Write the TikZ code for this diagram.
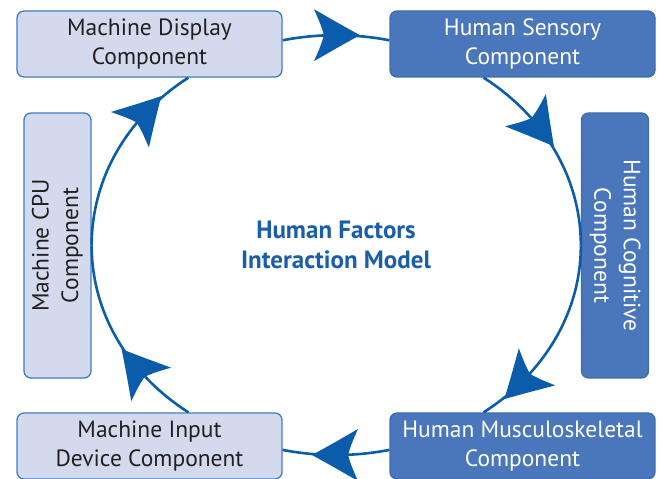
\documentclass[tikz,border=0pt]{standalone}
\usepackage{fontspec}
\setmainfont{PT Sans}
\usetikzlibrary{decorations.markings}
\definecolor{lightfill}{HTML}{D4DAED}
\definecolor{lightborder}{HTML}{3F7EC3}
\definecolor{darkfill}{HTML}{4A77BB}
\definecolor{darkborder}{HTML}{3D6DB3}
\definecolor{arrowblue}{HTML}{0B5DAB}
\definecolor{titleblue}{HTML}{1A5EAA}
\definecolor{textdark}{HTML}{231F20}
\begin{document}
\begin{tikzpicture}[x=1pt,y=1pt,
  box/.style={rounded corners=7pt, line width=1.3pt, inner sep=0pt, align=center,
    font=\fontsize{23.5}{29.5}\selectfont},
  lightbox/.style={box, fill=lightfill, draw=lightborder, text=textdark},
  darkbox/.style={box, fill=darkfill, draw=darkborder, text=white},
  hbox/.style={minimum width=265pt, minimum height=66pt},
  vbox/.style={minimum width=67pt, minimum height=265pt},
  titletext/.style={align=center, text=titleblue, inner sep=0pt,
    font=\bfseries\fontsize{25}{30}\selectfont},
  conn/.style={draw=arrowblue, line width=2.6pt, postaction={decorate},
    decoration={markings, mark=at position #1 with {
      \fill[arrowblue] (24,0) .. controls (4,11) .. (-22,26)
        .. controls (-15,10) .. (-12,0)
        .. controls (-15,-10) .. (-22,-26)
        .. controls (4,-11) .. (24,0) -- cycle;}}},
]
\useasboundingbox (0,0) rectangle (661,479);

\node[lightbox,hbox] (disp) at (149.5,435) {Machine Display\\Component};
\node[darkbox,hbox] (sens) at (522.5,435) {Human Sensory\\Component};
\node[darkbox,vbox] (cog) at (615,233.5)
  {\rotatebox{-90}{\begin{tabular}{@{}c@{}}Human Cognitive\\Component\end{tabular}}};
\node[darkbox,hbox] (musc) at (522.5,33) {Human Musculoskeletal\\Component};
\node[lightbox,hbox] (inp) at (149.5,33) {Machine Input\\Device Component};
\node[lightbox,vbox] (cpu) at (57.5,233.5)
  {\rotatebox{90}{\begin{tabular}{@{}c@{}}Machine CPU\\Component\end{tabular}}};
\node[titletext] (title) at (336,234) {Human Factors\\Interaction Model};

\draw[conn=0.5, looseness=0.86] ([yshift=3.7pt]disp.east) to[out=11,in=169] ([yshift=3.7pt]sens.west);
\draw[conn=0.37, looseness=0.92] ([xshift=-38.9pt]sens.south) to[out=-32.6,in=90] (cog.west);
\draw[conn=0.76, looseness=0.92] (cog.west) to[out=-90,in=32.6] ([xshift=-38.9pt]musc.north);
\draw[conn=0.5, looseness=0.86] ([yshift=-3.9pt]musc.west) to[out=191,in=-11] ([yshift=-3.9pt]inp.east);
\draw[conn=0.34, looseness=0.92] ([xshift=38.9pt]inp.north) to[out=147.4,in=-90] (cpu.east);
\draw[conn=0.72, looseness=0.92] (cpu.east) to[out=90,in=-147.4] ([xshift=38.9pt]disp.south);
\end{tikzpicture}
\end{document}
